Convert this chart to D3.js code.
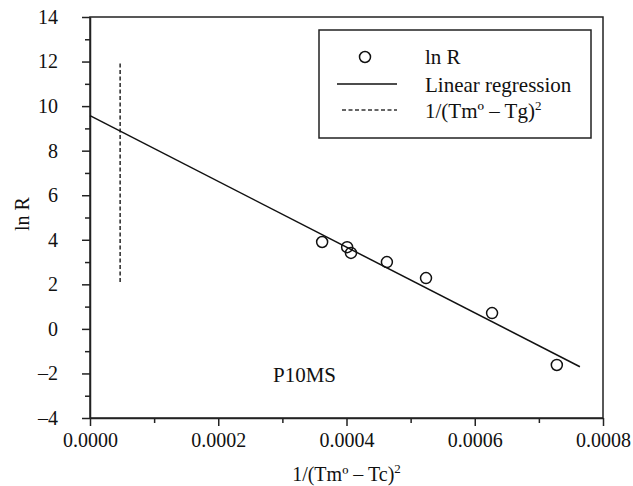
<!DOCTYPE html>
<html>
<head>
<meta charset="utf-8">
<script src="https://cdn.jsdelivr.net/npm/d3@7"></script>
<style>
  body { margin: 0; background: #fff; }
  text { font-family: "Liberation Serif", "Times New Roman", serif; fill: #111; }
</style>
</head>
<body>
<div id="chart"></div>
<script>
// measured points: 1/(Tm° - Tc)^2 vs ln R
const xVals = [0.000362, 0.000401, 0.000407, 0.000463, 0.000524, 0.000627, 0.000728];
const lnR = [3.90, 3.67, 3.41, 3.00, 2.28, 0.71, -1.62];

// regression line end points
const fitX = [0, 0.000764];
const fitY = [9.57, -1.70];

// 1/(Tm° - Tg)^2 marker
const tgX = [0.000047, 0.000047];
const tgY = [2.1, 12];

const xMajor = [0, 0.0002, 0.0004, 0.0006, 0.0008];
const xMinor = [0.0001, 0.0003, 0.0005, 0.0007];
const yMajor = [-4, -2, 0, 2, 4, 6, 8, 10, 12, 14];
const yMinor = [-3, -1, 1, 3, 5, 7, 9, 11, 13];

const W = 633, H = 486;
const pL = 90, pR = 603, pT = 17, pB = 418;
const serif = '"Liberation Serif", "Times New Roman", serif';

const svg = d3.select("#chart").append("svg")
    .attr("width", W)
    .attr("height", H);

const x = d3.scaleLinear().domain([0, 0.0008]).range([pL, pR]);
const y = d3.scaleLinear().domain([-4, 14]).range([pB, pT]);

// frame
svg.append("rect")
    .attr("x", pL).attr("y", pT)
    .attr("width", pR - pL).attr("height", pB - pT)
    .attr("fill", "none").attr("stroke", "#222").attr("stroke-width", 1.5);

// x axis
svg.append("g")
    .attr("transform", `translate(0,${pB})`)
    .call(d3.axisBottom(x).tickValues(xMajor).tickSize(8).tickSizeOuter(0)
      .tickPadding(7).tickFormat(d3.format(".4f")))
    .attr("font-family", serif).attr("font-size", 20);
svg.append("g")
    .attr("transform", `translate(0,${pB})`)
    .call(d3.axisBottom(x).tickValues(xMinor).tickSize(5).tickFormat(""))
    .select(".domain").remove();

// y axis
svg.append("g")
    .attr("transform", `translate(${pL},0)`)
    .call(d3.axisLeft(y).tickValues(yMajor).tickSize(8).tickSizeOuter(0)
      .tickPadding(24).tickFormat(d => d < 0 ? "\u2013" + Math.abs(d) : d))
    .attr("font-family", serif).attr("font-size", 20);
svg.append("g")
    .attr("transform", `translate(${pL},0)`)
    .call(d3.axisLeft(y).tickValues(yMinor).tickSize(5).tickFormat(""))
    .select(".domain").remove();

svg.selectAll(".tick line").attr("stroke", "#222").attr("stroke-width", 1.5);
svg.selectAll(".domain").attr("stroke", "#222").attr("stroke-width", 1.5);
svg.selectAll(".tick text").attr("fill", "#111");

// axis titles
const xt = svg.append("text")
    .attr("x", (pL + pR) / 2).attr("y", 481)
    .attr("text-anchor", "middle").style("font-size", "20px");
xt.append("tspan").text("1/(Tm\u00ba \u2013 Tc)");
xt.append("tspan").attr("dy", -8).style("font-size", "13px").text("2");

svg.append("text")
    .attr("transform", "translate(29,214) rotate(-90)")
    .attr("text-anchor", "middle").style("font-size", "20px")
    .text("ln R");

// dashed Tg line
const line = d3.line().x(d => x(d[0])).y(d => y(d[1]));
svg.append("path")
    .datum(d3.zip(tgX, tgY))
    .attr("d", line)
    .attr("fill", "none").attr("stroke", "#333").attr("stroke-width", 1.6)
    .attr("stroke-dasharray", "4,2.5");

// regression
svg.append("path")
    .datum(d3.zip(fitX, fitY))
    .attr("d", line)
    .attr("fill", "none").attr("stroke", "#111").attr("stroke-width", 1.5);

// points
svg.append("g").selectAll("circle")
    .data(d3.zip(xVals, lnR))
    .join("circle")
    .attr("cx", d => x(d[0])).attr("cy", d => y(d[1]))
    .attr("r", 5.5)
    .attr("fill", "none").attr("stroke", "#111").attr("stroke-width", 1.5);

// sample label
svg.append("text")
    .attr("x", 273).attr("y", 382)
    .style("font-size", "21px")
    .text("P10MS");

// legend
const lg = svg.append("g");
lg.append("rect")
    .attr("x", 319).attr("y", 30).attr("width", 272).attr("height", 108)
    .attr("fill", "#fff").attr("stroke", "#222").attr("stroke-width", 1.5);
lg.append("circle")
    .attr("cx", 365).attr("cy", 57).attr("r", 5.5)
    .attr("fill", "none").attr("stroke", "#111").attr("stroke-width", 1.5);
lg.append("line")
    .attr("x1", 337).attr("x2", 397).attr("y1", 84).attr("y2", 84)
    .attr("stroke", "#111").attr("stroke-width", 1.5);
lg.append("line")
    .attr("x1", 342).attr("x2", 397).attr("y1", 110).attr("y2", 110)
    .attr("stroke", "#333").attr("stroke-width", 1.5)
    .attr("stroke-dasharray", "4,2.5");
lg.append("text").attr("x", 425).attr("y", 64).style("font-size", "21px").text("ln R");
lg.append("text").attr("x", 425).attr("y", 92).style("font-size", "21px").text("Linear regression");
const lt = lg.append("text").attr("x", 425).attr("y", 118).style("font-size", "21px");
lt.append("tspan").text("1/(Tm\u00ba \u2013 Tg)");
lt.append("tspan").attr("dy", -8).style("font-size", "13px").text("2");
</script>
</body>
</html>
